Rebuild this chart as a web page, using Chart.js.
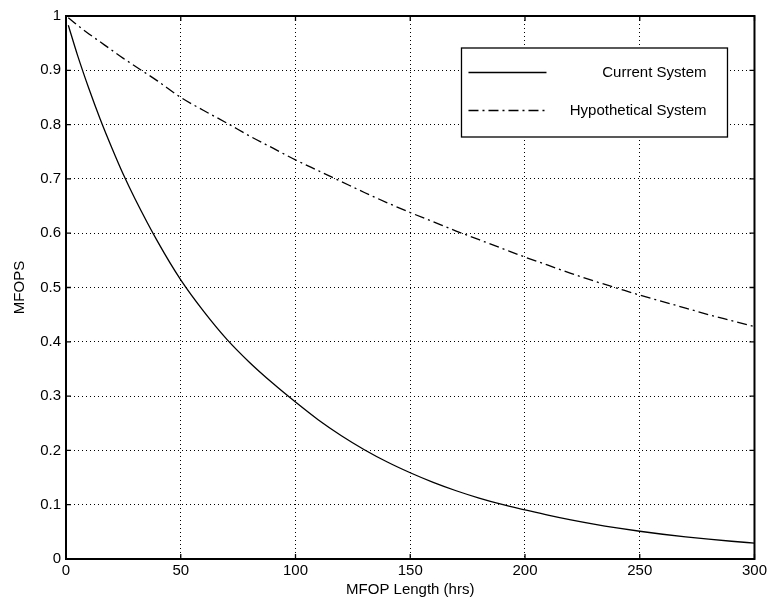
<!DOCTYPE html>
<html>
<head>
<meta charset="utf-8">
<script src="https://cdn.jsdelivr.net/npm/chart.js@4/dist/chart.umd.min.js"></script>
<style>
  html, body { margin: 0; padding: 0; background: #fff; }
  #wrap { width: 770px; height: 606px; }
</style>
</head>
<body>
<div id="wrap"><canvas id="c" width="770" height="606"></canvas></div>
<script>
// MFOP length in hours
const hours = [1, 5, 10, 15, 20, 25, 30, 40, 50, 60, 70, 80, 90, 100,
  110, 120, 130, 140, 150, 160, 170, 180, 190, 200,
  210, 220, 230, 240, 250, 260, 270, 280, 290, 300];
// Maintenance-free operating period survivability
const currentSystem = [0.983, 0.928, 0.866, 0.809, 0.757, 0.708, 0.664, 0.584, 0.514, 0.456, 0.405, 0.362, 0.324, 0.289,
  0.256, 0.227, 0.2013, 0.1786, 0.1588, 0.1411, 0.1257, 0.1122, 0.1005, 0.0905,
  0.0807, 0.0719, 0.0641, 0.0572, 0.0511, 0.0456, 0.0408, 0.0365, 0.0327, 0.0293];
const hypotheticalSystem = [0.997, 0.983, 0.967, 0.952, 0.937, 0.922, 0.908, 0.880, 0.850, 0.826, 0.803, 0.779, 0.757, 0.735,
  0.715, 0.695, 0.675, 0.656, 0.638, 0.621, 0.604, 0.588, 0.572, 0.556,
  0.541, 0.526, 0.512, 0.499, 0.486, 0.474, 0.462, 0.450, 0.439, 0.428];
const seriesNames = ['Current System', 'Hypothetical System'];
const xTickValues = [0, 50, 100, 150, 200, 250, 300];
const yTickValues = [0, 0.1, 0.2, 0.3, 0.4, 0.5, 0.6, 0.7, 0.8, 0.9, 1];

const FONT_FAMILY = '"Liberation Sans", Arial, sans-serif';
const FONT = { family: FONT_FAMILY, size: 15 };
const DASH_DOT = [10, 4, 2, 4];

const toPoints = (ys) => hours.map((h, i) => ({ x: h, y: ys[i] }));
const formatTick = (v) => String(Math.round(v * 10) / 10);

// Box frame with inward ticks on all four sides
const framePlugin = {
  id: 'frame',
  afterDatasetsDraw(chart) {
    const { ctx, chartArea: a, scales } = chart;
    ctx.save();
    ctx.strokeStyle = '#000';
    ctx.lineWidth = 1.3;
    ctx.setLineDash([]);
    const len = 5;
    ctx.beginPath();
    xTickValues.forEach(v => {
      const px = scales.x.getPixelForValue(v);
      ctx.moveTo(px, a.bottom); ctx.lineTo(px, a.bottom - len);
      ctx.moveTo(px, a.top); ctx.lineTo(px, a.top + len);
    });
    yTickValues.forEach(v => {
      const py = scales.y.getPixelForValue(v);
      ctx.moveTo(a.left, py); ctx.lineTo(a.left + len, py);
      ctx.moveTo(a.right, py); ctx.lineTo(a.right - len, py);
    });
    ctx.stroke();
    ctx.lineWidth = 2;
    ctx.strokeRect(a.left, a.top, a.right - a.left, a.bottom - a.top);
    ctx.restore();
  }
};

// Legend box in the upper right of the plot, labels right-aligned
const boxLegendPlugin = {
  id: 'boxLegend',
  afterDraw(chart) {
    const { ctx, chartArea: a } = chart;
    const x0 = a.right - 293, y0 = a.top + 32, w = 266, h = 89;
    ctx.save();
    ctx.fillStyle = '#fff';
    ctx.fillRect(x0, y0, w, h);
    ctx.strokeStyle = '#000';
    ctx.lineWidth = 1.3;
    ctx.setLineDash([]);
    ctx.strokeRect(x0, y0, w, h);
    ctx.font = `${FONT.size}px ${FONT_FAMILY}`;
    ctx.textAlign = 'right';
    ctx.textBaseline = 'middle';
    ctx.fillStyle = '#000';
    chart.data.datasets.forEach((ds, i) => {
      const yy = y0 + 24.5 + i * 38;
      ctx.beginPath();
      ctx.lineWidth = ds.borderWidth;
      ctx.setLineDash(ds.borderDash || []);
      ctx.moveTo(x0 + 7, yy);
      ctx.lineTo(x0 + 85, yy);
      ctx.stroke();
      ctx.setLineDash([]);
      ctx.fillText(ds.label, x0 + w - 21, yy);
    });
    ctx.restore();
  }
};

new Chart(document.getElementById('c'), {
  type: 'line',
  data: {
    datasets: [
      {
        label: seriesNames[0],
        data: toPoints(currentSystem),
        borderColor: '#000',
        borderWidth: 1.3,
        pointRadius: 0,
        cubicInterpolationMode: 'monotone',
        fill: false
      },
      {
        label: seriesNames[1],
        data: toPoints(hypotheticalSystem),
        borderColor: '#000',
        borderWidth: 1.3,
        borderDash: DASH_DOT,
        pointRadius: 0,
        cubicInterpolationMode: 'monotone',
        fill: false
      }
    ]
  },
  options: {
    responsive: false,
    animation: false,
    devicePixelRatio: 1,
    layout: { padding: { left: 0, right: 13, top: 16, bottom: 0 } },
    plugins: {
      legend: { display: false },
      tooltip: { enabled: false }
    },
    scales: {
      x: {
        type: 'linear',
        min: 0,
        max: 300,
        afterBuildTicks(scale) { scale.ticks = xTickValues.map(v => ({ value: v })); },
        ticks: { color: '#000', font: FONT, padding: 3, maxRotation: 0, callback: formatTick },
        grid: { color: '#000', lineWidth: 1, drawTicks: false },
        border: { display: false, dash: [1, 3] },
        title: { display: true, text: 'MFOP Length (hrs)', color: '#000', font: FONT, padding: { top: 0, bottom: 7 } },
        afterFit(scale) { scale.height = 47; }
      },
      y: {
        type: 'linear',
        min: 0,
        max: 1,
        afterBuildTicks(scale) { scale.ticks = yTickValues.map(v => ({ value: v })); },
        ticks: { color: '#000', font: FONT, padding: 5, callback: formatTick },
        grid: { color: '#000', lineWidth: 1, drawTicks: false },
        border: { display: false, dash: [1, 3] },
        title: { display: true, text: 'MFOPS', color: '#000', font: FONT, padding: { top: 11, bottom: 0 } },
        afterFit(scale) { scale.width = 66; }
      }
    }
  },
  plugins: [framePlugin, boxLegendPlugin]
});
</script>
</body>
</html>
